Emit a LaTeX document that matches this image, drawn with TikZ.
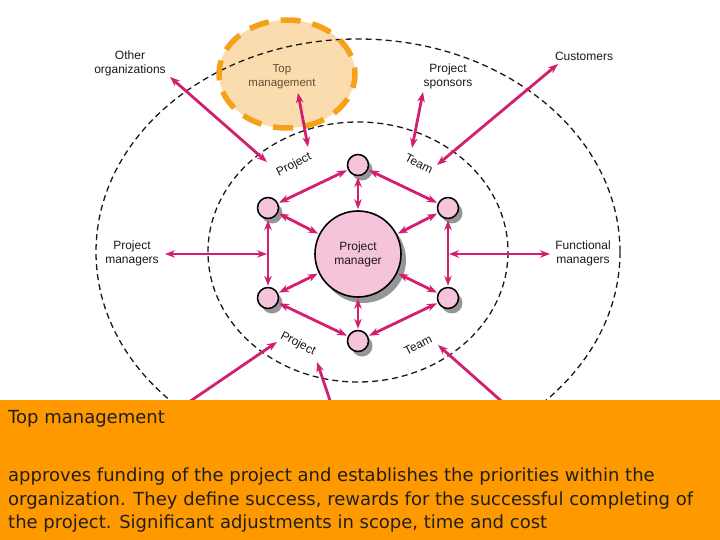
\documentclass[tikz,border=0pt]{standalone}
\usepackage{fontspec}
\setmainfont{Liberation Sans}
\newfontfamily\bodyfont{DejaVu Sans}
\usetikzlibrary{arrows.meta,shadows,shapes.geometric}
\definecolor{mag}{RGB}{212,30,112}
\definecolor{pinkf}{RGB}{246,196,218}
\definecolor{shadowg}{RGB}{150,150,150}
\definecolor{peach}{RGB}{251,220,175}
\definecolor{orangeb}{RGB}{247,160,26}
\definecolor{boxor}{RGB}{255,153,0}
\definecolor{txt}{RGB}{25,25,25}
\definecolor{tmtxt}{RGB}{105,75,50}
\begin{document}
\begin{tikzpicture}[x=1pt,y=-1pt,
  arr/.style={draw=mag, line width=2.8pt, {Stealth[length=10pt,width=7.5pt]}-{Stealth[length=10pt,width=7.5pt]}, shorten >=1pt, shorten <=1pt},
  arrone/.style={draw=mag, line width=2.8pt, -{Stealth[length=10pt,width=7.5pt]}},
  smallc/.style={circle, draw=black, line width=1.5pt, fill=pinkf, minimum size=21pt, inner sep=0pt,
     general shadow={fill=shadowg, shadow xshift=4pt, shadow yshift=-5pt}},
  ring/.style={draw=black!90, line width=1.3pt, dash pattern=on 6pt off 4pt},
  lbl/.style={font=\fontsize{12}{14}\selectfont, text=txt, align=center, inner sep=0pt},
  rlbl/.style={font=\fontsize{12}{14}\selectfont, text=txt, inner sep=0pt},
  bline/.style={anchor=base west, inner sep=0pt, font=\bodyfont\fontsize{18}{23.5}\selectfont, text=black!88},
]
\useasboundingbox (0,0) rectangle (720,540);
\fill[white] (0,0) rectangle (720,540);

% top management fill
\node[ellipse, fill=peach, minimum width=136pt, minimum height=108pt, inner sep=0pt] (tm) at (287,74) {};

% dashed rings
\draw[ring] (358,252) ellipse [x radius=262, y radius=213];
\draw[ring] (358,252) ellipse [x radius=150, y radius=130];

% top management border and text
\draw[orangeb, line width=5.5pt, dash pattern=on 20pt off 12pt, dash phase=6pt] (287,74) ellipse [x radius=68, y radius=54];
\node[lbl, text=tmtxt, font=\fontsize{11.5}{14}\selectfont] (tmt) at (282,77) {Top\\management};

% outer labels
\node[lbl] (oo) at (130,63) {Other\\organizations};
\node[lbl] (ps) at (448,76) {Project\\sponsors};
\node[lbl] (cu) at (584,56) {Customers};
\node[lbl] (pmg) at (132,253) {Project\\managers};
\node[lbl] (fm) at (583,253) {Functional\\managers};

% rotated inner labels
\node[rlbl, rotate=27] (ptop) at (294,165) {Project};
\node[rlbl, rotate=-27] (ttop) at (419,164) {Team};
\node[rlbl, rotate=-27] (pbot) at (298,344) {Project};
\node[rlbl, rotate=27] (tbot) at (418,345) {Team};

% center and small circles
\node[circle, draw=black, line width=1.6pt, fill=pinkf, minimum size=86pt, inner sep=0pt,
      general shadow={fill=shadowg, shadow xshift=5pt, shadow yshift=-6pt},
      font=\fontsize{12}{14}\selectfont, text=txt, align=center] (pm) at (358,254) {Project\\manager};
\node[smallc] (ct) at (358,165) {};
\node[smallc] (cul) at (268,208) {};
\node[smallc] (cur) at (448,208) {};
\node[smallc] (cll) at (268,298) {};
\node[smallc] (clr) at (448,298) {};
\node[smallc] (cb) at (358,341) {};

% inner arrows
\draw[arr] (ct) -- (pm);
\draw[arr] (cb) -- (pm);
\draw[arr] (cul) -- (pm);
\draw[arr] (cur) -- (pm);
\draw[arr] (cll) -- (pm);
\draw[arr] (clr) -- (pm);
\draw[arr] (ct) -- (cul);
\draw[arr] (ct) -- (cur);
\draw[arr] (cb) -- (cll);
\draw[arr] (cb) -- (clr);
\draw[arr] (cul) -- (cll);
\draw[arr] (cur) -- (clr);

% outer arrows
\coordinate (a1s) at (170,77);  \coordinate (a1e) at (267,162);
\coordinate (a2s) at (298,93);  \coordinate (a2e) at (308,147);
\coordinate (a3s) at (423,92);  \coordinate (a3e) at (412,148);
\coordinate (a4s) at (558,64);  \coordinate (a4e) at (437,165);
\coordinate (a5s) at (165,254); \coordinate (a5e) at (267,254);
\coordinate (a6s) at (449,254); \coordinate (a6e) at (550,254);
\draw[arr, shorten >=0pt, shorten <=0pt] (a1s) -- (a1e);
\draw[arr, shorten >=0pt, shorten <=0pt] (a2s) -- (a2e);
\draw[arr, shorten >=0pt, shorten <=0pt] (a3s) -- (a3e);
\draw[arr, shorten >=0pt, shorten <=0pt] (a4s) -- (a4e);
\draw[arr, shorten >=0pt, shorten <=0pt] (a5s) -- (a5e);
\draw[arr, shorten >=0pt, shorten <=0pt] (a6s) -- (a6e);

\coordinate (b1s) at (148,430); \coordinate (b1e) at (277,342);
\coordinate (b2s) at (340,430); \coordinate (b2e) at (317,362);
\coordinate (b3s) at (534,430); \coordinate (b3e) at (438,345);
\draw[arrone] (b1s) -- (b1e);
\draw[arrone] (b2s) -- (b2e);
\draw[arrone] (b3s) -- (b3e);

% bottom orange box
\fill[boxor] (0,400) rectangle (720,540);
\node[bline] (bt) at (8,423) {Top management};
\node[bline] (bl1) at (8,481) {approves funding of the project and establishes the priorities within the};
\node[bline] (bl2) at (8,505) {organization. They define success, rewards for the successful completing of};
\node[bline] (bl3) at (8,528) {the project. Significant adjustments in scope, time and cost};
\end{tikzpicture}
\end{document}
